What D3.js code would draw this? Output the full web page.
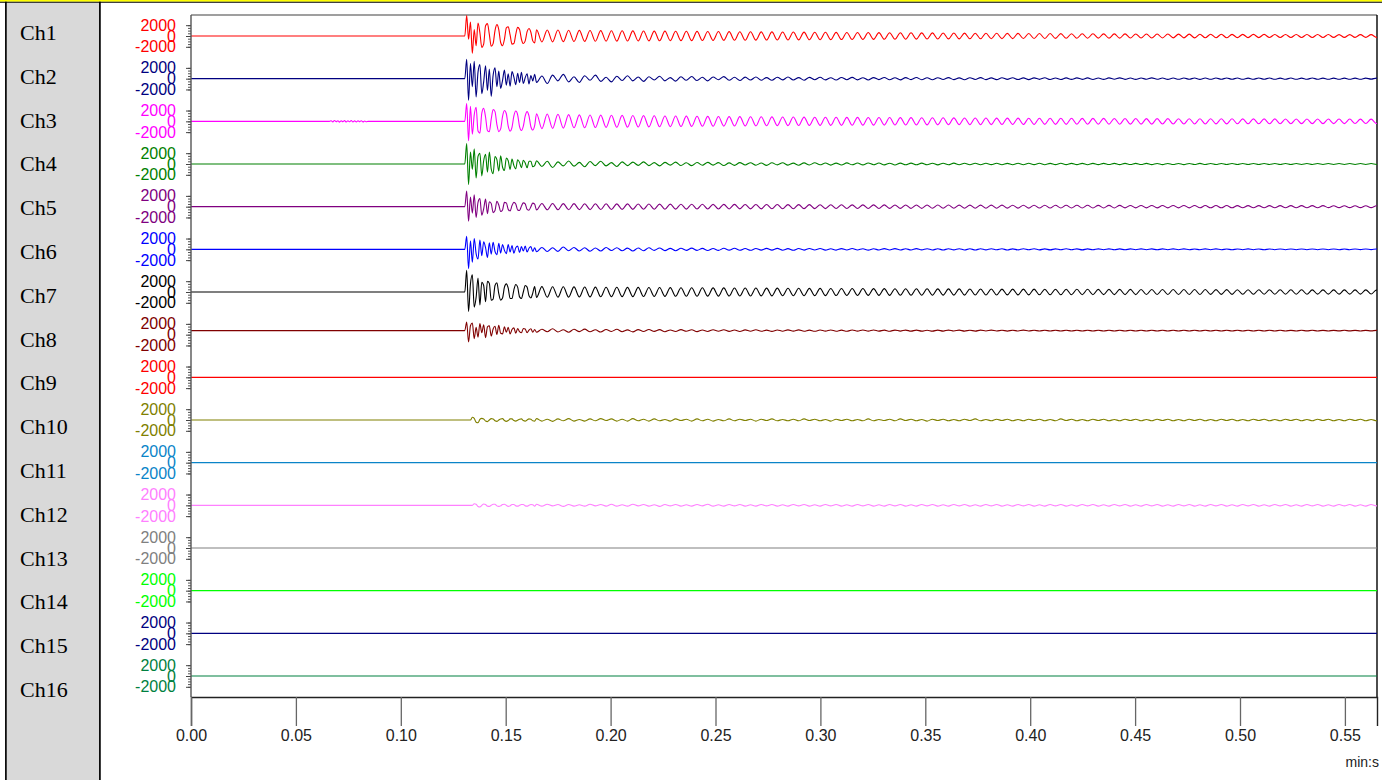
<!DOCTYPE html>
<html lang="en">
<head>
<meta charset="utf-8">
<script src="https://d3js.org/d3.v7.min.js"></script>
<style>
  body { margin: 0; background: #fff; }
  svg { display: block; }
</style>
</head>
<body>
<div id="chart"></div>
<script>
// channel names + colours
var chNames = ["Ch1","Ch2","Ch3","Ch4","Ch5","Ch6","Ch7","Ch8","Ch9","Ch10","Ch11","Ch12","Ch13","Ch14","Ch15","Ch16"];
var chColors = ["#ff0000","#000080","#ff00ff","#008000","#800080","#0000ff","#000000","#800000",
                "#ff0000","#808000","#0a84c8","#ff80ff","#808080","#00ff00","#000080","#008040"];
// DC level of the trace (Ch8 sits a bit above its zero)
var chLevels = [0,0,0,0,0,0,0,750,0,0,0,0,0,0,0,0];

var xTicks = [0,0.05,0.10,0.15,0.20,0.25,0.30,0.35,0.40,0.45,0.50,0.55];
var yTicks = [-2000, 0, 2000];
var X_MAX = 0.5653;

// trigger time, burst samples (0.9 ms apart) then ringing peaks (half period 2.55 ms)
var T_ON = 0.1305;
var BURST_DT = 0.0009;
var RING_DT = 0.00255;

// a little noise on Ch3 before the trigger, from 0.066 s, 0.8 ms apart
var PRE_T0 = 0.066;
var PRE_DT = 0.0008;
var ch3Pre = [0,120,-100,150,-80,110,-140,90,-60,130,
  -120,100,-90,140,-110,80,-130,100,-70,120,
  -100,60,-90,0];

var ch1Burst = [0,3800,-600,2600,-3200,1200,-1800,2400,600,-2100,
  -1500,1900,2300,300,-1900,-1400,1000,2100,1200,-1200,
  -1800,-600,1500,1700,200,-1500,-1400,300,1600,1200,
  -600,-1400,-900,800,1400,700,-900,-1300];
var ch1Ring = [1150,-1100,1120,-1080,1100,-1050,1060,-1020,1040,-1000,
  1010,-980,1000,-960,980,-950,960,-930,950,-920,
  930,-900,910,-890,900,-870,880,-860,870,-850,
  850,-830,840,-820,830,-800,810,-790,800,-780,
  780,-770,770,-750,760,-740,740,-730,730,-710,
  720,-700,700,-690,690,-670,680,-660,660,-650,
  650,-640,640,-620,630,-610,610,-600,600,-590,
  590,-570,580,-560,570,-550,560,-540,550,-530,
  530,-520,520,-510,510,-500,500,-490,490,-480,
  480,-470,470,-460,460,-450,450,-440,440,-430,
  430,-420,420,-410,410,-400,400,-400,390,-390,
  390,-380,380,-370,370,-370,360,-360,360,-350,
  350,-340,340,-340,330,-330,330,-320,320,-320,
  310,-310,310,-300,300,-300,300,-290,290,-290,
  290,-280,280,-280,280,-270,270,-270,270,-260,
  260,-260,260,-260,250,-250,250,-250,250,-250];

var ch2Burst = [0,3600,-4000,2800,-1500,3200,-3400,1200,2600,-2800,
  -600,2400,-2200,1800,-3300,600,2000,-1500,1400,-1800,
  -300,1600,-1200,900,-1400,1300,300,-1100,1000,-700,
  1200,-900,200,900,-1000,600,-400,800];
var ch2Ring = [-700,500,-900,650,-400,800,-600,350,-700,550,
  -300,650,-500,250,-600,450,-350,550,-400,300,
  -500,350,-250,450,-400,200,-450,350,-300,400,
  -350,250,-400,300,-200,380,-300,250,-350,280,
  -250,320,-280,200,-300,260,-220,300,-250,200,
  -280,240,-200,260,-230,180,-260,220,-190,240,
  -220,180,-240,200,-170,230,-200,170,-220,190,
  -180,210,-190,160,-210,180,-160,200,-180,150,
  -190,170,-150,190,-170,140,-180,160,-140,170,
  -160,140,-170,150,-130,160,-150,130,-160,140,
  -140,150,-130,140,-150,120,-140,140,-120,150,
  -130,120,-140,130,-110,140,-120,120,-130,110,
  -120,130,-110,120,-130,110,-120,120,-100,120,
  -110,120,-120,100,-110,120,-100,110,-120,100,
  -100,110,-110,100,-100,110,-100,100,-110,100,
  -100,100,-100,100,-100,100,-90,100,-100,90];

var ch3Burst = [0,3300,-3600,2800,-2400,1200,2600,-1800,-2200,1500,
  2400,800,-1700,-1900,400,2200,1800,-600,-1900,-1400,
  900,2000,1400,-900,-1800,-1100,1000,1900,1200,-1000,
  -1700,-900,1000,1800,1000,-1000,-1600,-800];
var ch3Ring = [1400,-1350,1350,-1300,1300,-1250,1250,-1200,1200,-1180,
  1180,-1150,1150,-1120,1120,-1100,1100,-1080,1080,-1050,
  1050,-1030,1030,-1000,1000,-980,980,-960,960,-940,
  940,-920,920,-900,900,-880,880,-870,870,-850,
  850,-840,840,-820,820,-810,810,-800,800,-780,
  780,-770,770,-760,760,-750,750,-740,740,-730,
  730,-720,720,-710,710,-700,700,-690,690,-680,
  680,-670,670,-660,660,-650,650,-640,640,-630,
  630,-620,620,-620,610,-610,600,-600,600,-590,
  590,-590,580,-580,580,-570,570,-570,560,-560,
  560,-550,550,-550,540,-540,540,-530,530,-530,
  520,-520,520,-510,510,-510,500,-500,500,-500,
  490,-490,490,-480,480,-480,480,-470,470,-470,
  470,-460,460,-460,460,-450,450,-450,450,-440,
  440,-440,440,-430,430,-430,430,-430,420,-420,
  420,-420,420,-410,410,-410,410,-410,400,-400];

var ch4Burst = [0,3800,-3800,2200,-1000,2800,-2600,1400,2000,-2200,
  600,1800,-1500,2200,-900,-1800,1400,800,-1300,1500,
  -600,-1200,1100,600,-1000,900,-300,-900,800,300,
  -700,700,200,-700,500,500,-500,-300];
var ch4Ring = [600,-450,500,-650,400,-350,550,-400,300,-500,
  450,-300,500,-350,250,-450,400,-300,350,-250,
  400,-300,250,-350,300,-200,350,-280,220,-300,
  280,-220,300,-200,250,-280,200,-250,260,-180,
  240,-220,180,-250,220,-170,230,-200,160,-220,
  200,-180,220,-150,190,-200,160,-190,200,-150,
  180,-170,190,-140,180,-160,150,-180,170,-140,
  160,-150,170,-130,150,-160,140,-150,160,-130,
  150,-140,130,-150,140,-120,150,-130,120,-140,
  130,-130,140,-110,130,-130,120,-120,130,-110,
  120,-120,110,-130,120,-110,120,-100,110,-120,
  110,-100,120,-100,110,-110,100,-110,100,-100,
  100,-110,100,-90,110,-100,90,-100,100,-90,
  100,-90,90,-100,90,-90,100,-90,90,-90,
  90,-90,90,-80,90,-90,80,-90,80,-80,
  80,-80,90,-80,80,-80,80,-80,80,-80];

var ch5Burst = [0,2900,-2700,1800,-1200,2200,-2000,800,1500,-1600,
  -400,1400,-1300,900,600,-1100,-700,1000,300,-900,
  -600,800,700,-500,-800,200,800,500,-600,-700,
  100,700,500,-500,-650,0,650,450];
var ch5Ring = [-600,600,-580,580,-570,570,-560,560,-550,550,
  -540,540,-530,530,-520,520,-510,510,-500,500,
  -490,490,-480,480,-470,470,-460,460,-450,450,
  -440,440,-430,430,-430,420,-420,420,-410,410,
  -410,400,-400,400,-390,390,-390,380,-380,380,
  -370,370,-370,360,-360,360,-350,350,-350,340,
  -340,340,-340,330,-330,330,-320,320,-320,320,
  -310,310,-310,310,-300,300,-300,300,-300,290,
  -290,290,-290,280,-280,280,-280,280,-270,270,
  -270,270,-270,260,-260,260,-260,260,-250,250,
  -250,250,-250,250,-240,240,-240,240,-240,240,
  -230,230,-230,230,-230,230,-230,220,-220,220,
  -220,220,-220,220,-210,210,-210,210,-210,210,
  -210,200,-200,200,-200,200,-200,200,-200,190,
  -190,190,-190,190,-190,190,-190,190,-180,180,
  -180,180,-180,180,-180,180,-180,180,-180,180];

var ch6Burst = [0,2400,-3600,1600,-2400,2000,-800,-1800,1700,-1200,
  1400,300,-1500,1200,-900,1300,-400,-1000,1100,-700,
  900,-200,-800,900,-500,700,-700,300,600,-600,
  500,-300,600,-500,200,500,-400,300];
var ch6Ring = [-450,350,-400,300,-380,420,-250,350,-320,280,
  -350,250,-300,330,-220,300,-260,220,-300,240,
  -250,280,-200,260,-230,180,-250,200,-190,230,
  -200,180,-220,160,-200,190,-150,200,-170,150,
  -180,160,-150,180,-140,170,-160,130,-170,150,
  -140,160,-130,150,-150,120,-140,140,-120,150,
  -130,120,-140,110,-130,130,-110,130,-120,110,
  -120,130,-100,120,-120,100,-120,110,-100,120,
  -110,100,-110,100,-100,110,-90,100,-110,90,
  -100,100,-90,100,-100,90,-100,90,-90,100,
  -90,90,-100,80,-90,90,-80,90,-90,80,
  -90,80,-80,90,-80,80,-90,80,-80,80,
  -80,80,-80,70,-80,80,-70,80,-80,70,
  -80,70,-70,80,-70,70,-80,70,-70,70,
  -70,70,-70,70,-70,70,-70,70,-70,70,
  -70,60,-70,70,-60,70,-60,70,-60,60];

var ch7Burst = [0,4000,-3600,1500,3200,-2800,-1000,2600,-2400,1800,
  1200,-1800,2000,1600,-1500,-1300,1200,1700,-300,-1500,
  -1100,900,1500,700,-1200,-1200,400,1400,900,-900,
  -1200,0,1200,900,-700,-1100,-200,1000];
var ch7Ring = [-1000,1000,-980,980,-960,960,-940,940,-920,920,
  -900,900,-890,890,-870,870,-860,860,-850,850,
  -840,840,-820,820,-810,810,-800,800,-790,790,
  -780,780,-770,770,-760,760,-750,750,-740,740,
  -730,730,-720,720,-710,710,-700,700,-690,690,
  -690,680,-680,670,-670,660,-660,650,-650,640,
  -640,640,-630,630,-620,620,-620,610,-610,600,
  -600,600,-590,590,-590,580,-580,580,-570,570,
  -570,560,-560,560,-550,550,-550,540,-540,540,
  -540,530,-530,530,-520,520,-520,510,-510,510,
  -510,500,-500,500,-500,490,-490,490,-490,480,
  -480,480,-480,470,-470,470,-470,460,-460,460,
  -460,460,-450,450,-450,450,-440,440,-440,440,
  -440,430,-430,430,-430,420,-420,420,-420,420,
  -410,410,-410,410,-410,400,-400,400,-400,400,
  -400,390,-390,390,-390,390,-380,380,-380,380];

var ch8Burst = [0,1600,-2100,900,1400,-1500,600,-1200,1300,-400,
  1100,-1300,700,900,-1000,300,800,-700,1000,-500,
  -600,700,-300,600,-600,200,500,-500,400,-200,
  -400,400,300,-400,100,350,-300,200];
var ch8Ring = [-300,250,-200,350,-250,150,-300,250,-180,280,
  -220,150,-260,200,-150,240,-200,130,-230,180,
  -160,210,-140,180,-200,120,-170,190,-130,160,
  -180,120,-150,170,-110,160,-140,110,-160,130,
  -120,150,-130,100,-140,120,-110,140,-100,130,
  -120,100,-130,110,-100,120,-110,90,-120,110,
  -100,110,-90,110,-100,90,-110,100,-90,100,
  -100,90,-100,80,-100,90,-90,100,-80,90,
  -90,80,-90,90,-80,90,-80,80,-90,80,
  -80,90,-80,80,-80,70,-80,80,-80,70,
  -70,80,-70,70,-80,70,-70,70,-70,70,
  -70,70,-60,70,-70,60,-70,70,-60,70,
  -60,70,-60,60,-70,60,-60,60,-60,60,
  -60,60,-60,60,-60,60,-60,60,-60,60,
  -60,50,-60,60,-50,60,-60,50,-60,50,
  -50,60,-50,50,-60,50,-50,50,-50,50];

var ch10Burst = [0,0,0,0,500,300,-400,-500,100,300,
  200,-200,-300,0,250,200,-150,-250,0,200,
  250,-100,-250,-100,200,200,-100,-200,-50,150,
  200,-100,-200,0,200,150,-150,-200];
var ch10Ring = [250,-200,150,-250,200,-150,250,-200,100,-200,
  200,-150,250,-100,200,-200,150,-200,250,-150,
  150,-200,200,-150,100,-200,200,-100,150,-200,
  200,-150,150,-200,100,-150,200,-150,150,-100,
  150,-200,150,-100,200,-150,100,-150,150,-150,
  200,-100,150,-150,100,-200,150,-100,150,-150,
  100,-150,200,-150,100,-100,150,-150,200,-100,
  150,-150,100,-200,150,-100,150,-150,100,-150,
  150,-100,200,-150,100,-150,150,-100,150,-150,
  100,-150,150,-100,150,-150,100,-150,200,-100,
  150,-150,100,-150,150,-100,150,-150,100,-150,
  150,-100,150,-150,100,-150,150,-100,150,-150,
  100,-150,150,-100,150,-150,100,-150,150,-100,
  150,-150,100,-150,150,-100,150,-150,100,-150,
  150,-100,150,-150,100,-150,150,-100,150,-150,
  100,-150,150,-100,150,-150,100,-150,150,-100];

var ch12Burst = [0,0,0,0,0,300,200,-200,-300,0,
  250,150,-150,-200,0,200,200,-100,-200,-100,
  150,200,0,-200,-100,150,150,-100,-150,0,
  150,150,-100,-150,0,150,100,-150];
var ch12Ring = [200,-150,200,-100,150,-200,150,-150,100,-150,
  200,-100,150,-150,200,-150,100,-150,200,-100,
  150,-150,100,-200,150,-100,150,-150,100,-150,
  150,-100,200,-150,100,-150,150,-100,150,-150,
  100,-150,150,-100,150,-150,100,-150,150,-100,
  150,-150,100,-150,150,-100,150,-150,100,-150,
  150,-100,150,-150,100,-150,150,-100,150,-150,
  100,-150,150,-100,150,-150,100,-150,150,-100,
  150,-150,100,-150,150,-100,150,-150,100,-150,
  150,-100,150,-150,100,-150,150,-100,150,-150,
  100,-150,150,-100,150,-150,100,-150,150,-100,
  150,-150,100,-150,150,-100,150,-150,100,-150,
  150,-100,150,-150,100,-150,150,-100,150,-150,
  100,-150,150,-100,150,-150,100,-150,150,-100,
  150,-150,100,-150,150,-100,150,-150,100,-150,
  150,-100,150,-150,100,-150,150,-100,150,-150];

var pres   = [[],[],ch3Pre,[],[],[],[],[],[],[],[],[],[],[],[],[]];
var bursts = [ch1Burst,ch2Burst,ch3Burst,ch4Burst,ch5Burst,ch6Burst,ch7Burst,ch8Burst,
              [],ch10Burst,[],ch12Burst,[],[],[],[]];
var rings  = [ch1Ring,ch2Ring,ch3Ring,ch4Ring,ch5Ring,ch6Ring,ch7Ring,ch8Ring,
              [],ch10Ring,[],ch12Ring,[],[],[],[]];

(function() {
    var width = 1382, height = 780;
    var plotL = 191, plotR = 1377, plotT = 15, plotB = 697;

    var svg = d3.select("#chart").append("svg")
        .attr("width", width)
        .attr("height", height);

    // outer frame + grey name column
    svg.append("rect").attr("x", 6.7).attr("y", 2.7).attr("width", 92.5).attr("height", height)
        .attr("fill", "#d9d9d9");
    svg.append("line").attr("x1", 0).attr("x2", width).attr("y1", 0.9).attr("y2", 0.9)
        .attr("stroke", "#ffff00").attr("stroke-width", 1.8);
    svg.append("line").attr("x1", 0).attr("x2", width).attr("y1", 2.2).attr("y2", 2.2)
        .attr("stroke", "#000").attr("stroke-width", 1.1);
    svg.append("line").attr("x1", 5.9).attr("x2", 5.9).attr("y1", 1.7).attr("y2", height)
        .attr("stroke", "#000").attr("stroke-width", 1.7);
    svg.append("line").attr("x1", 99.9).attr("x2", 99.9).attr("y1", 1.7).attr("y2", height)
        .attr("stroke", "#000").attr("stroke-width", 1.7);

    var x = d3.scaleLinear().domain([0, X_MAX]).range([plotL, plotR]);
    var zeroY = d3.scalePoint().domain(chNames).range([36, 676]);
    var nameY = d3.scalePoint().domain(chNames).range([40, 697]);

    // channel names
    svg.selectAll(".chname")
        .data(chNames)
        .enter().append("text")
        .attr("class", "chname")
        .attr("x", 20)
        .attr("y", function(d) { return nameY(d); })
        .attr("font-family", "'Liberation Serif', 'Times New Roman', serif")
        .attr("font-size", 22)
        .attr("fill", "#000")
        .text(function(d) { return d; });

    svg.append("defs").append("clipPath").attr("id", "plotclip")
        .append("rect").attr("x", plotL).attr("y", plotT)
        .attr("width", plotR - plotL).attr("height", plotB - plotT);

    // frame of the plot
    svg.append("line").attr("x1", plotL).attr("x2", plotR).attr("y1", plotT).attr("y2", plotT)
        .attr("stroke", "#7f7f7f").attr("stroke-width", 1.5);
    svg.append("line").attr("x1", plotR).attr("x2", plotR).attr("y1", plotT).attr("y2", plotB)
        .attr("stroke", "#000").attr("stroke-width", 1.4);

    var traces = svg.append("g").attr("clip-path", "url(#plotclip)");

    chNames.forEach(function(name, i) {
        var z = zeroY(name);
        var y = d3.scaleLinear().domain([-2000, 2000]).range([z + 10.8, z - 10.8]);
        var col = chColors[i];
        var lvl = chLevels[i];

        // minor + major ticks, labels
        var minor = d3.axisLeft(y).tickValues(d3.range(-2000, 2001, 500)).tickSize(3).tickFormat("");
        var g1 = svg.append("g").attr("transform", "translate(" + plotL + ",0)").call(minor);
        g1.select(".domain").remove();
        g1.selectAll("line").attr("stroke", "#555");

        // plain hyphen for the minus sign, like the original
        var major = d3.axisLeft(y).tickValues(yTicks).tickSize(5).tickPadding(10)
            .tickFormat(function(d) { return String(d); });
        var g2 = svg.append("g").attr("transform", "translate(" + plotL + ",0)").call(major);
        g2.select(".domain").remove();
        g2.selectAll("line").attr("stroke", "#444");
        g2.selectAll("text")
            .attr("fill", col)
            .attr("font-family", "'Liberation Sans', Arial, sans-serif")
            .attr("font-size", 16);

        // build the trace
        var pts = [[0, lvl]];
        pres[i].forEach(function(v, k) { pts.push([PRE_T0 + k * PRE_DT, v + lvl]); });
        pts.push([T_ON, lvl]);
        var b = bursts[i], r = rings[i];
        b.forEach(function(v, k) { pts.push([T_ON + k * BURST_DT, v + lvl]); });
        var t0 = T_ON + b.length * BURST_DT;
        r.forEach(function(v, k) { pts.push([t0 + k * RING_DT, v + lvl]); });
        if (pts[pts.length - 1][0] < X_MAX) pts.push([X_MAX, lvl]);

        var line = d3.line()
            .curve(d3.curveMonotoneX)
            .x(function(d) { return x(d[0]); })
            .y(function(d) { return y(d[1]); });

        traces.append("path")
            .datum(pts)
            .attr("d", line)
            .attr("fill", "none")
            .attr("stroke", col)
            .attr("stroke-width", 1.1)
            .attr("stroke-linejoin", "round");
    });

    // left axis line
    svg.append("line").attr("x1", plotL).attr("x2", plotL).attr("y1", plotT).attr("y2", plotB)
        .attr("stroke", "#555").attr("stroke-width", 1.4);

    // time axis
    var xAxis = d3.axisBottom(x).tickValues(xTicks).tickSize(29).tickPadding(4).tickFormat(d3.format(".2f"));
    var gx = svg.append("g").attr("transform", "translate(0," + plotB + ")").call(xAxis);
    gx.select(".domain").attr("stroke", "#222").attr("stroke-width", 1.4);
    gx.selectAll("line").attr("stroke", "#666").attr("stroke-width", 1.3);
    gx.selectAll("text")
        .attr("fill", "#222")
        .attr("font-family", "'Liberation Sans', Arial, sans-serif")
        .attr("font-size", 16);

    svg.append("text")
        .attr("x", 1379).attr("y", 767)
        .attr("text-anchor", "end")
        .attr("font-family", "'Liberation Sans', Arial, sans-serif")
        .attr("font-size", 14)
        .attr("fill", "#222")
        .text("min:s");
})();
</script>
</body>
</html>
